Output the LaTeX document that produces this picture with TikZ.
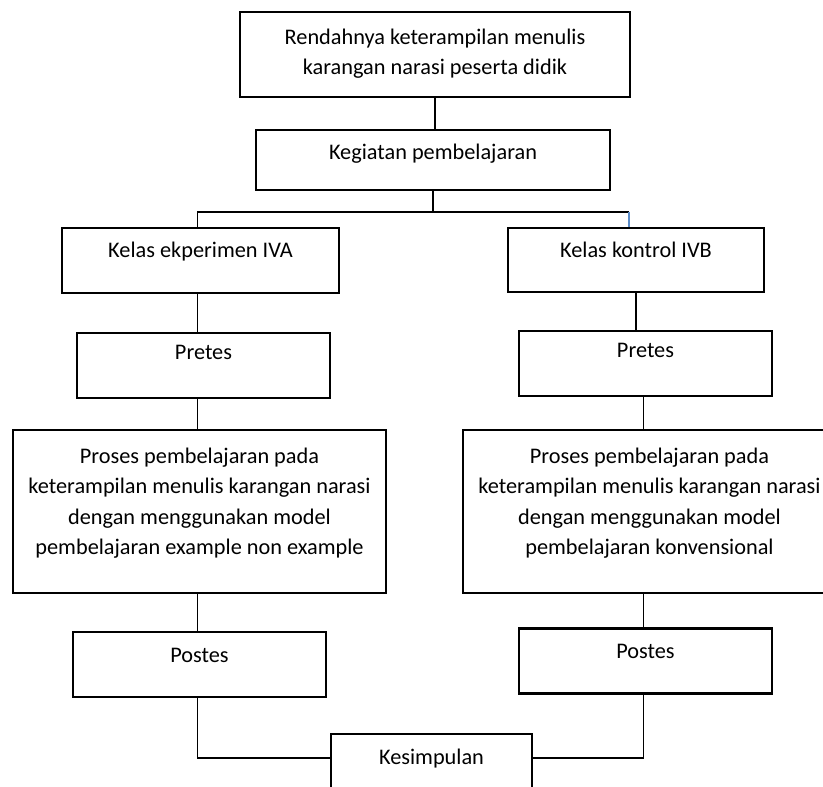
\documentclass[tikz,border=0pt]{standalone}
\usepackage{fontspec}
\setmainfont{Carlito}
\usetikzlibrary{positioning}
\definecolor{birukaku}{HTML}{5B8CC8}

\begin{document}
\begin{tikzpicture}[x=1pt,y=-1pt,
    kotak/.style={draw,line width=2.8pt,inner sep=0pt},
    teks/.style={anchor=north,align=center,inner sep=3pt,yshift=#1,font=\fontsize{22.3}{30.5}\selectfont},
    teks/.default=-12pt,
    garis/.style={line width=1.1pt},
    tanda/.style={line width=1.3pt,draw=birukaku}]
  \useasboundingbox (0,0) rectangle (823,787);
  \clip (0,0) rectangle (823,787);

  % kotak-kotak
  \node[kotak,minimum width=390pt,minimum height=85pt,
    label={[teks=-15pt]north:{Rendahnya keterampilan menulis\\karangan narasi peserta didik}}] (masalah) at (435,54.5) {};
  \node[kotak,minimum width=354pt,minimum height=60pt,
    label={[teks]north:{Kegiatan pembelajaran}}] (kegiatan) at (433,160) {};
  \node[kotak,minimum width=277pt,minimum height=65pt,
    label={[teks]north:{Kelas ekperimen IVA}}] (kelasA) at (200.5,260.5) {};
  \node[kotak,minimum width=256pt,minimum height=64pt,
    label={[teks]north:{Kelas kontrol IVB}}] (kelasB) at (636,260) {};
  \node[kotak,minimum width=253pt,minimum height=65pt,
    label={[teks=-10pt]north:{Pretes}}] (pretesA) at (203.5,365.5) {};
  \node[kotak,minimum width=253pt,minimum height=65pt,
    label={[teks=-10pt]north:{Pretes}}] (pretesB) at (645.5,363.5) {};
  \node[kotak,minimum width=373pt,minimum height=163pt,
    label={[teks=-16pt]north:{Proses pembelajaran pada\\keterampilan menulis karangan narasi\\dengan menggunakan model\\pembelajaran example non example}}] (prosesA) at (199.5,511.5) {};
  \node[kotak,minimum width=373pt,minimum height=163pt,
    label={[teks=-16pt]north:{Proses pembelajaran pada\\keterampilan menulis karangan narasi\\dengan menggunakan model\\pembelajaran konvensional}}] (prosesB) at (649.5,511.5) {};
  \node[kotak,minimum width=253pt,minimum height=65pt,
    label={[teks=-14pt]north:{Postes}}] (postesA) at (199.5,664.5) {};
  \node[kotak,minimum width=253pt,minimum height=65pt,
    label={[teks=-14pt]north:{Postes}}] (postesB) at (645.5,661) {};
  \node[kotak,minimum width=201pt,minimum height=100pt,
    label={[teks=-13pt]north:{Kesimpulan}}] (kesimpulan) at (431.5,784) {};

  % garis penghubung
  \coordinate (kolA) at (197.5,0);
  \coordinate (kolB) at (643.5,0);
  \coordinate (cabangA) at (197.5,212);
  \coordinate (cabangB) at (629,212);
  \coordinate (gabung) at (0,758);

  \draw[garis] (masalah.south) -- (masalah.south |- kegiatan.north);
  \draw[garis] (kegiatan.south) -- (kegiatan.south |- cabangA);
  \draw[garis] (kelasA.north -| cabangA) -- (cabangA) -- (cabangB);
  \draw[tanda] (cabangB) -- (kelasB.north -| cabangB);
  \foreach \a/\b in {kelasA/pretesA,pretesA/prosesA,prosesA/postesA}
    \draw[garis] (\a.south -| kolA) -- (\b.north -| kolA);
  \draw[garis] (kelasB.south) -- (kelasB.south |- pretesB.north);
  \foreach \a/\b in {pretesB/prosesB,prosesB/postesB}
    \draw[garis] (\a.south -| kolB) -- (\b.north -| kolB);
  \draw[garis] (postesA.south -| kolA) |- (kesimpulan.west |- gabung);
  \draw[garis] (postesB.south -| kolB) |- (kesimpulan.east |- gabung);
\end{tikzpicture}
\end{document}
